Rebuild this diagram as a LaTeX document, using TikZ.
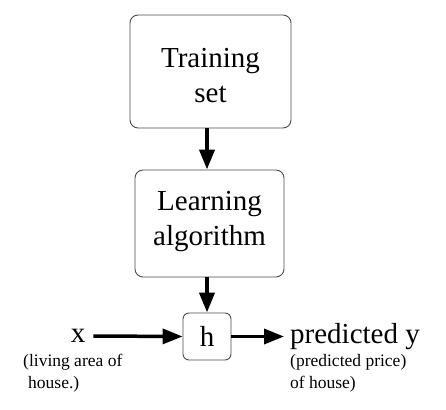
\documentclass[tikz,border=0pt]{standalone}
\usepackage{fontspec}
\setmainfont{Liberation Serif}
\usetikzlibrary{arrows.meta}
\begin{document}
\begin{tikzpicture}[x=1pt,y=-1pt,
  box/.style={draw=black!70,line width=0.9pt,rounded corners=8pt,fill=white},
  bigtext/.style={font=\fontsize{29}{35}\selectfont,align=center},
  smalltext/.style={font=\fontsize{17.5}{22}\selectfont,anchor=base west,inner sep=0pt},
  arr/.style={line width=4pt,-{Triangle[length=20pt,width=15pt]}},
  harr/.style={line width=3.5pt,-{Triangle[length=20pt,width=15pt]}}]
\useasboundingbox (0,0) rectangle (446,409);
\node[box,minimum width=161pt,minimum height=113pt] (train) at (210.5,71.5) {};
\node[bigtext] (traintxt) at (210.5,76) {Training\\set};
\node[box,minimum width=149pt,minimum height=107pt] (learn) at (209.5,223.5) {};
\node[bigtext] (learntxt) at (209.5,222) {Learning\\algorithm};
\node[box,rounded corners=6pt,minimum width=48pt,minimum height=47pt,font=\fontsize{29}{35}\selectfont] (h) at (207,336.5) {h};
\node[font=\fontsize{29}{35}\selectfont,inner sep=8pt] (x) at (78,336) {x};
\node[font=\fontsize{29}{35}\selectfont,anchor=base west,inner sep=0pt] (y) at (290,343) {predicted y};
\node[smalltext] (xdesc1) at (23,366) {(living area of};
\node[smalltext] (xdesc2) at (28,388) {house.)};
\node[smalltext] (ydesc1) at (290,366) {(predicted price)};
\node[smalltext] (ydesc2) at (290,388) {of house)};
\draw[arr] (train.south -| h.north) -- (learn.north -| h.north);
\draw[arr] (learn.south -| h.north) -- (h.north);
\draw[harr] (x.east) -- (h.west);
\draw[harr] (h.east) -- ([xshift=-6pt]y.west |- h.east);
\end{tikzpicture}
\end{document}
